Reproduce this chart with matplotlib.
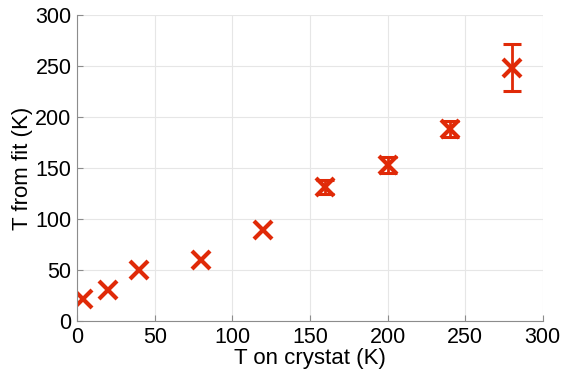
import numpy as np
import matplotlib.pyplot as plt

plt.rcParams['font.family'] = ['Liberation Sans', 'DejaVu Sans']

# crystat set point vs temperature from the fit
t_crystat = [4, 20, 40, 80, 120, 160, 200, 240, 280]
t_fit = [22, 30, 50, 60, 89, 131, 153, 188, 248]
t_err = [0, 0, 0, 0, 0, 7, 8, 8, 23]

x = np.array(t_crystat)
y = np.array(t_fit)
e = np.array(t_err)
has_err = e > 0

fig = plt.figure(figsize=(5.63, 3.72), dpi=100)
ax = fig.add_axes([0.137, 0.137, 0.827, 0.823])

ax.errorbar(x[has_err], y[has_err], yerr=e[has_err], fmt='none', ecolor='#e02a08',
            elinewidth=2.0, capsize=6.5, capthick=2.2)
ax.plot(x, y, 'x', color='#e02a08', ms=13, mew=3.0)

ax.set_xlim(0, 300)
ax.set_ylim(0, 300)
ax.set_xticks(np.arange(0, 301, 50))
ax.set_yticks(np.arange(0, 301, 50))
ax.grid(True, color='#e6e6e6', lw=0.8)
ax.set_axisbelow(True)
for s in ['top', 'right']:
    ax.spines[s].set_visible(False)
for s in ['left', 'bottom']:
    ax.spines[s].set_color('#8c8c8c')
ax.tick_params(direction='in', length=4, color='#8c8c8c', labelsize=15.5, pad=4)
ax.set_xlabel('T on crystat (K)', fontsize=16, labelpad=0)
ax.set_ylabel('T from fit (K)', fontsize=16, labelpad=2)

fig.savefig('out.png', dpi=100)
